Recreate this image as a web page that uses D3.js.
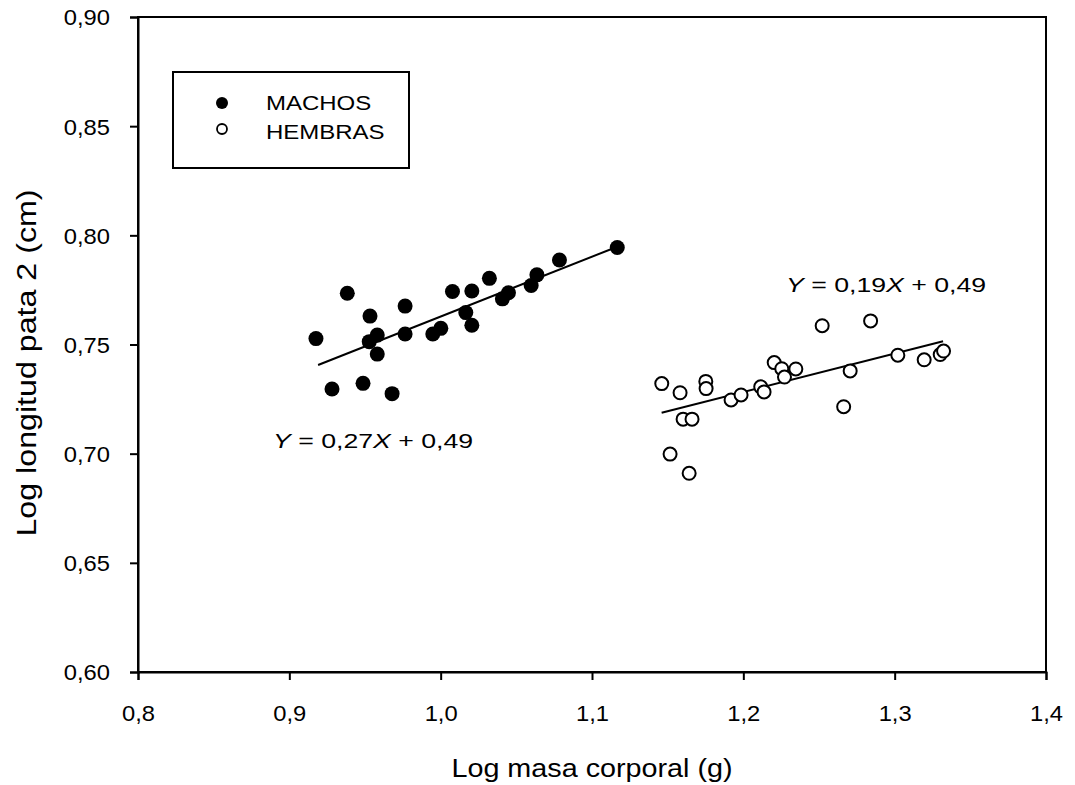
<!DOCTYPE html>
<html>
<head>
<meta charset="utf-8">
<script src="https://cdn.jsdelivr.net/npm/d3@7"></script>
<style>
  html, body { margin: 0; padding: 0; background: #fff; }
  svg { display: block; font-family: "Liberation Sans", Arial, sans-serif; }
</style>
</head>
<body>
<svg id="chart" width="1075" height="785"></svg>
<script>
// Log body mass (g) vs log length of leg 2 (cm)
const machosX = [0.9176, 0.9383, 0.9533, 0.9581, 0.9528, 0.9581, 0.9765, 0.9765, 0.9948, 1.0001,
                 1.0078, 1.0206, 1.0166, 1.0206, 1.0322, 1.0408, 1.0448, 1.0598, 1.0636, 1.0785,
                 1.1167, 0.9282, 0.9487, 0.9679];
const machosY = [0.7527, 0.7735, 0.7630, 0.7543, 0.7513, 0.7456, 0.7676, 0.7548, 0.7548, 0.7574,
                 0.7743, 0.7745, 0.7646, 0.7588, 0.7803, 0.7709, 0.7737, 0.7770, 0.7819, 0.7887,
                 0.7944, 0.7296, 0.7322, 0.7275];

const hembrasX = [1.1461, 1.1582, 1.1602, 1.1661, 1.1516, 1.1642, 1.1752, 1.1754, 1.1919, 1.1985,
                  1.2115, 1.2137, 1.2204, 1.2254, 1.2272, 1.2347, 1.2521, 1.2841, 1.2663, 1.2706,
                  1.3021, 1.3195, 1.3301, 1.3323];
const hembrasY = [0.7321, 0.7279, 0.7158, 0.7158, 0.6998, 0.6910, 0.7331, 0.7298, 0.7246, 0.7269,
                  0.7306, 0.7283, 0.7417, 0.7389, 0.7351, 0.7388, 0.7586, 0.7608, 0.7215, 0.7379,
                  0.7451, 0.7430, 0.7454, 0.7470];

// fitted regression lines: [x, y] at each end
const ajusteMachosX = [0.919, 1.120];
const ajusteMachosY = [0.7406, 0.7957];
const ajusteHembrasX = [1.146, 1.332];
const ajusteHembrasY = [0.7187, 0.7515];

const xTicks = [0.8, 0.9, 1.0, 1.1, 1.2, 1.3, 1.4];
const yTicks = [0.60, 0.65, 0.70, 0.75, 0.80, 0.85, 0.90];
const serieNombres = ["MACHOS", "HEMBRAS"];

const svg = d3.select("#chart");
const plotL = 138, plotR = 1046, plotT = 17, plotB = 672;

const x = d3.scaleLinear().domain([0.8, 1.4]).range([plotL, plotR]);
const y = d3.scaleLinear().domain([0.60, 0.90]).range([plotB, plotT]);

const loc = d3.formatLocale({ decimal: ",", thousands: ".", grouping: [3], currency: ["", ""] });
const fx = loc.format(".1f");
const fy = loc.format(".2f");

// text set in a slightly wide face: glyphs are stretched along the baseline
function wideText(parent, px, py, size, sx, anchor, rot) {
  const g = parent.append("g")
    .attr("transform", `translate(${px},${py})` + (rot ? ` rotate(${rot})` : "") + ` scale(${sx},1)`);
  return g.append("text")
    .attr("font-size", size)
    .attr("text-anchor", anchor || "start");
}

// frame
svg.append("rect")
  .attr("x", plotL).attr("y", plotT)
  .attr("width", plotR - plotL).attr("height", plotB - plotT)
  .attr("fill", "none").attr("stroke", "#000").attr("stroke-width", 2);

const tickSx = 1.08;
const xAxis = svg.append("g")
  .attr("transform", `translate(0,${plotB})`)
  .call(d3.axisBottom(x).tickValues(xTicks).tickFormat(fx).tickSize(8).tickPadding(25));
const yAxis = svg.append("g")
  .attr("transform", `translate(${plotL},0)`)
  .call(d3.axisLeft(y).tickValues(yTicks).tickFormat(fy).tickSize(8).tickPadding(20));

[xAxis, yAxis].forEach(g => {
  g.select(".domain").attr("stroke-width", 2);
  g.selectAll(".tick line").attr("stroke-width", 2);
  g.selectAll(".tick text")
    .attr("font-size", 22).attr("fill", "#000")
    .attr("font-family", "'Liberation Sans', Arial, sans-serif")
    .attr("transform", `scale(${tickSx},1)`);
});
yAxis.selectAll(".tick text").attr("x", -28 / tickSx).attr("dy", "0.36em");

// axis titles
wideText(svg, 592, 777, 25, 1.15, "middle").text("Log masa corporal (g)");
wideText(svg, 36, 363, 28, 1.15, "middle", -90).text("Log longitud pata 2 (cm)");

// regression lines
const line = d3.line().x(d => x(d[0])).y(d => y(d[1]));
svg.append("path")
  .datum(d3.zip(ajusteMachosX, ajusteMachosY))
  .attr("d", line).attr("fill", "none").attr("stroke", "#000").attr("stroke-width", 2);
svg.append("path")
  .datum(d3.zip(ajusteHembrasX, ajusteHembrasY))
  .attr("d", line).attr("fill", "none").attr("stroke", "#000").attr("stroke-width", 2);

// points
svg.append("g").selectAll("circle")
  .data(d3.zip(machosX, machosY))
  .join("circle")
  .attr("cx", d => x(d[0])).attr("cy", d => y(d[1]))
  .attr("r", 7.5).attr("fill", "#000");

svg.append("g").selectAll("circle")
  .data(d3.zip(hembrasX, hembrasY))
  .join("circle")
  .attr("cx", d => x(d[0])).attr("cy", d => y(d[1]))
  .attr("r", 6.5).attr("fill", "#fff").attr("stroke", "#000").attr("stroke-width", 2);

// regression equations
function ecuacion(px, py, pend, inter) {
  const t = wideText(svg, px, py, 21, 1.27, "start");
  t.append("tspan").attr("font-style", "italic").text("Y");
  t.append("tspan").text(" = " + pend);
  t.append("tspan").attr("font-style", "italic").text("X");
  t.append("tspan").text(" + " + inter);
}
ecuacion(273, 448, "0,27", "0,49");
ecuacion(786, 292, "0,19", "0,49");

// legend
const leg = svg.append("g");
leg.append("rect")
  .attr("x", 173).attr("y", 72).attr("width", 236).attr("height", 96)
  .attr("fill", "#fff").attr("stroke", "#000").attr("stroke-width", 2);
leg.append("circle").attr("cx", 222).attr("cy", 103).attr("r", 6).attr("fill", "#000");
leg.append("circle").attr("cx", 222).attr("cy", 129).attr("r", 5)
  .attr("fill", "#fff").attr("stroke", "#000").attr("stroke-width", 1.8);
serieNombres.forEach((nombre, i) => {
  wideText(leg, 266, 110 + i * 29, 20, 1.2, "start").text(nombre);
});
</script>
</body>
</html>
